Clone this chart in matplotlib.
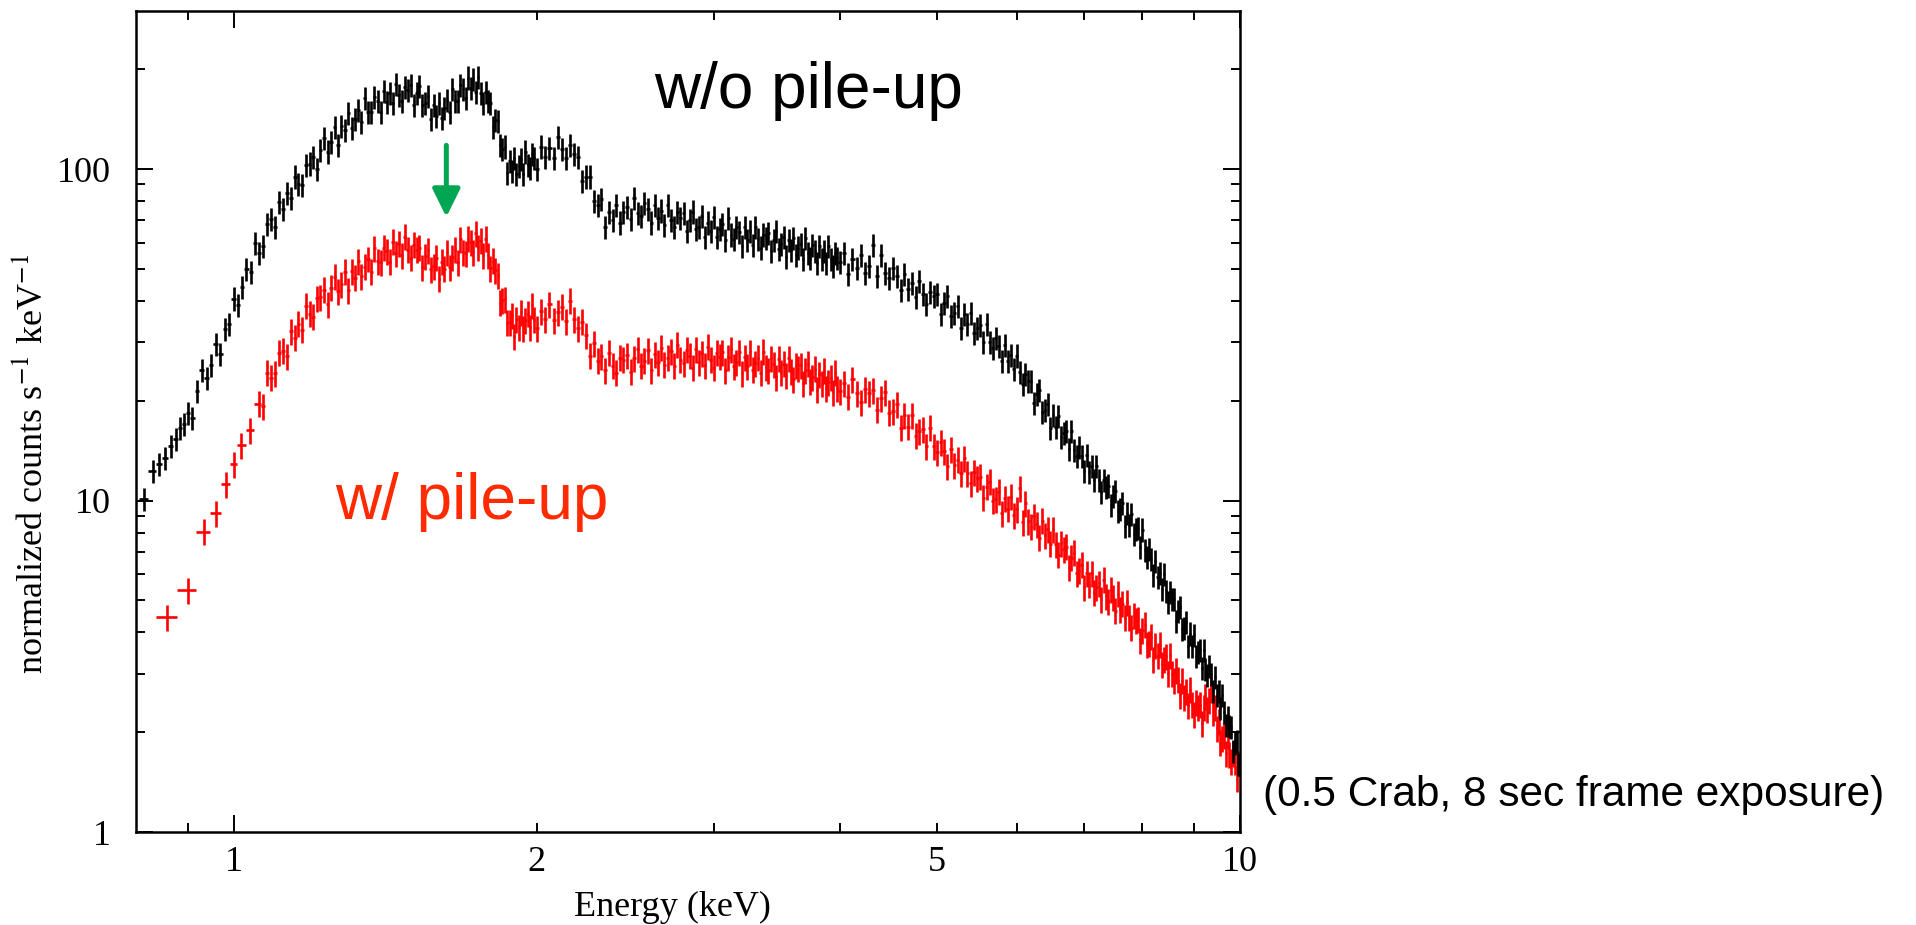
# X-ray spectrum of 0.5 Crab source, with and without pile-up
# Two spectra drawn as crosses (error bars) on log-log axes

import numpy as np
import matplotlib
matplotlib.use("Agg")
import matplotlib.pyplot as plt
from matplotlib.ticker import FixedLocator, FuncFormatter, NullFormatter

# ---- data ----
# low energy part (sparse bins first, then 0.01 keV steps)
black_energy_low = [0.814, 0.831, 0.843, 0.855, 0.866, 0.876, 0.885, 0.893,
                    0.90, 0.91, 0.92, 0.93, 0.94, 0.95, 0.96, 0.97, 0.98, 0.99,
                    1.00, 1.01, 1.02, 1.03, 1.04, 1.05, 1.06, 1.07, 1.08, 1.09,
                    1.10, 1.11, 1.12, 1.13, 1.14, 1.15, 1.16, 1.17, 1.18, 1.19,
                    1.20, 1.21, 1.22, 1.23, 1.24, 1.25, 1.26, 1.27, 1.28, 1.29,
                    1.30, 1.31, 1.32, 1.33, 1.34, 1.35, 1.36, 1.37, 1.38, 1.39,
                    1.40, 1.41, 1.42, 1.43, 1.44, 1.45, 1.46, 1.47, 1.48, 1.49,
                    1.50, 1.51, 1.52, 1.53, 1.54, 1.55, 1.56, 1.57, 1.58, 1.59,
                    1.60, 1.61, 1.62, 1.63, 1.64, 1.65, 1.66, 1.67, 1.68, 1.69,
                    1.70, 1.71, 1.72, 1.73, 1.74, 1.75, 1.76, 1.77, 1.78, 1.79,
                    1.80, 1.81, 1.82, 1.83, 1.84, 1.85, 1.86, 1.87, 1.88, 1.89,
                    1.90, 1.91, 1.92, 1.93, 1.94, 1.95, 1.96, 1.97, 1.98, 1.99]
black_counts_low = [10.1, 12.3, 12.9, 13.4, 14.6, 15.3, 16.6, 17.0,
                    18.4, 17.7, 21.4, 24.8, 23.5, 25.7, 29.7, 27.6, 33.0, 34.0,
                    40.7, 39.0, 44.0, 49.9, 48.9, 60.0, 55.9, 58.6, 68.3, 70.7,
                    67.0, 79.5, 75.7, 84.5, 81.7, 95.0, 90.1, 89.3, 103, 104,
                    109, 100, 114, 124, 113, 121, 134, 118, 135, 131,
                    148, 133, 142, 151, 139, 164, 149, 149, 165, 160,
                    149, 172, 159, 170, 158, 181, 167, 160, 177, 173,
                    179, 156, 170, 178, 156, 158, 166, 142, 156, 145,
                    158, 143, 153, 162, 149, 175, 161, 160, 179, 175,
                    164, 189, 176, 187, 171, 190, 170, 158, 171, 161,
                    158, 134, 141, 140, 118, 115, 117, 97.5, 106, 98.9,
                    108, 96.9, 102, 107, 96.8, 113, 103, 101, 111, 108]

red_energy_low = [0.858, 0.901, 0.934, 0.960, 0.983, 1.000, 1.018, 1.038,
                  1.06, 1.07, 1.08, 1.09,
                  1.10, 1.11, 1.12, 1.13, 1.14, 1.15, 1.16, 1.17, 1.18, 1.19,
                  1.20, 1.21, 1.22, 1.23, 1.24, 1.25, 1.26, 1.27, 1.28, 1.29,
                  1.30, 1.31, 1.32, 1.33, 1.34, 1.35, 1.36, 1.37, 1.38, 1.39,
                  1.40, 1.41, 1.42, 1.43, 1.44, 1.45, 1.46, 1.47, 1.48, 1.49,
                  1.50, 1.51, 1.52, 1.53, 1.54, 1.55, 1.56, 1.57, 1.58, 1.59,
                  1.60, 1.61, 1.62, 1.63, 1.64, 1.65, 1.66, 1.67, 1.68, 1.69,
                  1.70, 1.71, 1.72, 1.73, 1.74, 1.75, 1.76, 1.77, 1.78, 1.79,
                  1.80, 1.81, 1.82, 1.83, 1.84, 1.85, 1.86, 1.87, 1.88, 1.89,
                  1.90, 1.91, 1.92, 1.93, 1.94, 1.95, 1.96, 1.97, 1.98, 1.99]
red_counts_low = [4.45, 5.37, 8.06, 9.17, 11.2, 12.9, 14.7, 16.3,
                  19.6, 19.3, 24.3, 23.5,
                  24.2, 27.9, 28.3, 27.3, 32.5, 31.0, 34.2, 32.8, 38.7, 36.6,
                  35.9, 40.8, 41.0, 43.3, 39.2, 43.9, 47.4, 42.9, 45.0, 49.1,
                  43.2, 49.2, 47.0, 52.8, 47.5, 50.8, 53.6, 49.1, 57.8, 52.7,
                  52.3, 58.0, 56.5, 52.5, 60.4, 55.8, 59.5, 55.1, 62.6, 57.2,
                  54.0, 59.1, 57.1, 58.0, 50.6, 54.6, 56.9, 49.9, 50.9, 54.1,
                  46.7, 52.5, 50.1, 56.1, 50.6, 54.2, 57.2, 52.4, 61.5, 56.1,
                  55.7, 61.7, 60.2, 56.1, 64.2, 58.2, 60.8, 55.1, 61.6, 54.9,
                  50.3, 53.0, 49.5, 47.8, 39.5, 40.3, 40.5, 34.4, 34.5, 36.3,
                  31.3, 35.2, 33.4, 37.0, 33.1, 35.0, 36.6, 33.3, 38.8, 35.1]

# middle part (0.02 keV steps), same bins for both spectra
energy_mid = [2.00, 2.02, 2.04, 2.06, 2.08, 2.10, 2.12, 2.14, 2.16, 2.18,
              2.20, 2.22, 2.24, 2.26, 2.28, 2.30, 2.32, 2.34, 2.36, 2.38,
              2.40, 2.42, 2.44, 2.46, 2.48, 2.50, 2.52, 2.54, 2.56, 2.58,
              2.60, 2.62, 2.64, 2.66, 2.68, 2.70, 2.72, 2.74, 2.76, 2.78,
              2.80, 2.82, 2.84, 2.86, 2.88, 2.90, 2.92, 2.94, 2.96, 2.98,
              3.00, 3.02, 3.04, 3.06, 3.08, 3.10, 3.12, 3.14, 3.16, 3.18,
              3.20, 3.22, 3.24, 3.26, 3.28, 3.30, 3.32, 3.34, 3.36, 3.38,
              3.40, 3.42, 3.44, 3.46, 3.48, 3.50, 3.52, 3.54, 3.56, 3.58,
              3.60, 3.62, 3.64, 3.66, 3.68, 3.70, 3.72, 3.74, 3.76, 3.78,
              3.80, 3.82, 3.84, 3.86, 3.88, 3.90, 3.92, 3.94, 3.96, 3.98]
black_counts_mid = [100, 117, 109, 116, 108, 125, 115, 108, 118, 111,
                    109, 92, 95, 95, 80, 78, 81, 67, 74, 70,
                    78, 69, 74, 77, 70.5, 82, 73.5, 72, 79, 76,
                    69, 78, 71, 75, 68, 78, 70, 67, 74, 71,
                    73.5, 65, 70, 74.5, 66, 67, 72, 62.5, 69, 65,
                    71.5, 62.5, 66, 68.5, 61, 71, 63.5, 61.5, 67, 64.5,
                    58.5, 67, 61, 65, 59, 67, 61.5, 58, 63.5, 62,
                    64, 56.5, 61, 65, 57.5, 59.5, 62.5, 54.5, 61, 57,
                    62, 55, 58, 59.5, 53.5, 62, 56, 54, 59, 56.5,
                    52, 58.5, 53.5, 56.5, 52, 58.5, 53.5, 51, 56, 54]
red_counts_mid = [33.1, 37.3, 35.3, 39.2, 35.0, 37.0, 38.5, 34.8, 40.1, 35.3,
                  33.1, 34.7, 31.5, 27.4, 29.9, 26.4, 27.3, 24.7, 27.9, 25.5,
                  24.3, 27.0, 26.6, 27.5, 24.5, 26.9, 28.6, 25.5, 26.4, 28.4,
                  24.7, 27.7, 26.1, 28.9, 25.7, 27.0, 28.2, 25.5, 29.5, 26.6,
                  26.0, 28.5, 27.4, 25.2, 28.6, 26.2, 27.8, 25.6, 29.1, 26.6,
                  25.2, 27.9, 27.2, 28.0, 24.7, 27.1, 28.6, 25.4, 26.1, 28.0,
                  24.2, 27.1, 25.4, 28.0, 24.8, 26.0, 27.0, 24.3, 28.1, 25.3,
                  24.7, 26.9, 25.8, 23.6, 26.8, 24.4, 25.9, 23.8, 26.9, 24.6,
                  23.2, 25.6, 25.0, 25.6, 22.6, 24.7, 25.9, 22.9, 23.6, 25.0,
                  21.6, 24.1, 22.5, 24.7, 21.8, 22.8, 23.5, 21.2, 24.3, 21.8]

# high energy part (0.04 keV steps)
energy_high = [4.00, 4.04, 4.08, 4.12, 4.16, 4.20, 4.24, 4.28, 4.32, 4.36,
               4.40, 4.44, 4.48, 4.52, 4.56, 4.60, 4.64, 4.68, 4.72, 4.76,
               4.80, 4.84, 4.88, 4.92, 4.96, 5.00, 5.04, 5.08, 5.12, 5.16,
               5.20, 5.24, 5.28, 5.32, 5.36, 5.40, 5.44, 5.48, 5.52, 5.56,
               5.60, 5.64, 5.68, 5.72, 5.76, 5.80, 5.84, 5.88, 5.92, 5.96,
               6.00, 6.04, 6.08, 6.12, 6.16, 6.20, 6.24, 6.28, 6.32, 6.36,
               6.40, 6.44, 6.48, 6.52, 6.56, 6.60, 6.64, 6.68, 6.72, 6.76,
               6.80, 6.84, 6.88, 6.92, 6.96, 7.00, 7.04, 7.08, 7.12, 7.16,
               7.20, 7.24, 7.28, 7.32, 7.36, 7.40, 7.44, 7.48, 7.52, 7.56,
               7.60, 7.64, 7.68, 7.72, 7.76, 7.80, 7.84, 7.88, 7.92, 7.96,
               8.00, 8.04, 8.08, 8.12, 8.16, 8.20, 8.24, 8.28, 8.32, 8.36,
               8.40, 8.44, 8.48, 8.52, 8.56, 8.60, 8.64, 8.68, 8.72, 8.76,
               8.80, 8.84, 8.88, 8.92, 8.96, 9.00, 9.04, 9.08, 9.12, 9.16,
               9.20, 9.24, 9.28, 9.32, 9.36, 9.40, 9.44, 9.48, 9.52, 9.56,
               9.60, 9.64, 9.68, 9.72, 9.76, 9.80, 9.84, 9.88, 9.92, 9.96]
black_counts_high = [52.5, 55.9, 48.2, 53.7, 50.2, 55.1, 48.7, 51.1, 59.0, 47.7,
                     54.9, 48.6, 46.8, 50.4, 47.7, 43.2, 48.3, 43.5, 45.4, 41.2,
                     46.1, 41.9, 39.2, 42.7, 41.3, 41.9, 36.5, 39.5, 41.3, 36.1,
                     36.7, 38.7, 33.1, 36.6, 34.0, 36.9, 32.1, 33.2, 33.8, 30.0,
                     34.1, 30.0, 28.8, 30.9, 29.2, 26.3, 29.5, 26.4, 27.5, 24.9,
                     27.4, 24.5, 22.5, 24.1, 23.0, 22.9, 19.7, 20.9, 21.5, 18.5,
                     18.7, 19.6, 16.6, 18.1, 16.7, 18.0, 15.6, 16.0, 16.2, 14.3,
                     16.2, 14.2, 13.6, 14.5, 13.6, 12.3, 13.7, 12.2, 12.7, 11.5,
                     12.7, 11.5, 10.6, 11.5, 11.0, 11.1, 9.67, 10.3, 10.7, 9.31,
                     9.41, 9.86, 8.37, 9.17, 8.44, 9.10, 7.93, 8.20, 8.27, 7.24,
                     8.18, 7.11, 6.77, 7.14, 6.67, 5.95, 6.57, 5.87, 6.03, 5.42,
                     5.99, 5.35, 4.94, 5.30, 5.05, 5.04, 4.34, 4.63, 4.76, 4.11,
                     4.12, 4.29, 3.63, 3.97, 3.65, 3.93, 3.40, 3.50, 3.55, 3.13,
                     3.54, 3.11, 2.98, 3.17, 3.00, 2.67, 2.94, 2.59, 2.66, 2.37,
                     2.59, 2.30, 2.10, 2.23, 2.09, 2.07, 1.76, 1.85, 1.88, 1.60]
red_counts_high = [21.4, 22.6, 20.6, 23.2, 21.1, 19.8, 21.7, 21.1, 21.5, 18.8,
                   20.4, 21.2, 18.4, 18.6, 19.5, 16.6, 18.1, 16.7, 18.1, 15.7,
                   16.2, 16.4, 14.6, 16.6, 14.6, 14.0, 15.0, 14.1, 12.7, 14.3,
                   12.8, 13.3, 12.1, 13.4, 12.1, 11.3, 12.2, 11.7, 11.8, 10.2,
                   11.0, 11.4, 10.0, 10.1, 10.65, 9.15, 10.15, 9.46, 10.27, 9.03,
                   9.40, 10.9, 8.60, 9.81, 8.67, 8.35, 8.98, 8.48, 7.72, 8.69,
                   7.86, 8.19, 7.41, 8.21, 7.38, 6.86, 7.44, 7.14, 7.25, 6.28,
                   6.73, 6.97, 6.05, 6.14, 6.41, 5.47, 6.03, 5.58, 6.05, 5.27,
                   5.48, 5.64, 5.04, 5.78, 5.14, 4.97, 5.38, 5.11, 4.65, 5.23,
                   4.70, 4.89, 4.43, 4.94, 4.44, 4.14, 4.50, 4.34, 4.38, 3.79,
                   4.07, 4.22, 3.68, 3.71, 3.89, 3.31, 3.66, 3.40, 3.68, 3.21,
                   3.32, 3.39, 3.01, 3.41, 3.00, 2.87, 3.07, 2.88, 2.59, 2.86,
                   2.55, 2.66, 2.41, 2.69, 2.43, 2.27, 2.46, 2.38, 2.42, 2.13,
                   2.37, 2.57, 2.35, 2.49, 2.70, 2.30, 2.37, 2.06, 2.16, 1.86,
                   1.92, 1.96, 1.73, 1.95, 1.72, 1.63, 1.73, 1.63, 1.45, 1.61]

# relative size of the vertical error bars
black_rel_err = 0.08
red_rel_err = 0.09

# tick positions
y_major = [1, 10, 100]
y_minor = [2, 3, 4, 5, 6, 7, 8, 9, 20, 30, 40, 50, 60, 70, 80, 90, 200]
x_major = [1, 10]
x_minor = [0.9, 2, 3, 4, 5, 6, 7, 8, 9]
x_minor_labeled = [2, 5]


def half_widths(e):
    # half distance to the neighbour bins, used as horizontal error bar
    gaps = np.diff(e) / 2
    lo = np.concatenate([[gaps[0]], gaps])
    hi = np.concatenate([gaps, [gaps[-1]]])
    return [lo, hi]


plt.rcParams['font.family'] = ['Liberation Serif', 'DejaVu Serif']
plt.rcParams['mathtext.fontset'] = 'stix'

fig = plt.figure(figsize=(19.16, 9.25), dpi=100)
ax = fig.add_axes([0.0710, 0.1005, 0.5762, 0.8876])

black_e = np.array(black_energy_low + energy_mid + energy_high)
black_c = np.array(black_counts_low + black_counts_mid + black_counts_high)
red_e = np.array(red_energy_low + energy_mid + energy_high)
red_c = np.array(red_counts_low + red_counts_mid + red_counts_high)

# spectrum with pile-up (red)
ax.errorbar(red_e, red_c, xerr=half_widths(red_e), yerr=red_rel_err * red_c,
            fmt='none', ecolor='#ff0000', elinewidth=1.9, capsize=0)
# spectrum without pile-up (black)
ax.errorbar(black_e, black_c, xerr=half_widths(black_e), yerr=black_rel_err * black_c,
            fmt='none', ecolor='black', elinewidth=1.9, capsize=0)

ax.set_xscale('log')
ax.set_yscale('log')
ax.set_xlim(0.8, 10)
ax.set_ylim(1, 300)

# ticks like the PGPLOT style: inward, on all four sides
ax.xaxis.set_major_locator(FixedLocator(x_major))
ax.xaxis.set_minor_locator(FixedLocator(x_minor))
ax.xaxis.set_major_formatter(FuncFormatter(lambda v, p: '%g' % v))
ax.xaxis.set_minor_formatter(FuncFormatter(lambda v, p: '%g' % v if v in x_minor_labeled else ''))
ax.yaxis.set_major_locator(FixedLocator(y_major))
ax.yaxis.set_minor_locator(FixedLocator(y_minor))
ax.yaxis.set_major_formatter(FuncFormatter(lambda v, p: '%g' % v))
ax.yaxis.set_minor_formatter(NullFormatter())

ax.tick_params(which='both', direction='in', top=True, right=True, labelsize=26, width=1.4)
ax.tick_params(which='major', length=12)
ax.tick_params(which='minor', length=6.5)
ax.tick_params(axis='x', which='both', pad=10)
ax.tick_params(axis='y', which='both', pad=18)
for s in ax.spines.values():
    s.set_linewidth(1.8)

ax.set_xlabel('Energy (keV)', fontsize=26)
ax.xaxis.set_label_coords(0.486, -0.072)
ax.set_ylabel(r'normalized counts s$^{-1}$ keV$^{-1}$', fontsize=26)
ax.yaxis.set_label_coords(-0.078, 0.448)

# green arrow at the dip
ax.annotate('', xy=(1.627, 71.7), xytext=(1.627, 118),
            arrowprops=dict(arrowstyle='-|>,head_length=0.85,head_width=0.42',
                            color='#00a651', lw=3.6, mutation_scale=20,
                            shrinkA=0, shrinkB=0))

# annotation texts
fig.text(654 / 1916, 1 - 108 / 925, 'w/o pile-up', fontsize=46,
         family='Liberation Sans', color='black', va='baseline')
fig.text(335 / 1916, 1 - 519 / 925, 'w/ pile-up', fontsize=46,
         family='Liberation Sans', color='#ff2a00', va='baseline')
fig.text(1263 / 1916, 1 - 806 / 925, '(0.5 Crab, 8 sec frame exposure)', fontsize=30.5,
         family='Liberation Sans', color='black', va='baseline')

fig.savefig('out.png', dpi=100)
